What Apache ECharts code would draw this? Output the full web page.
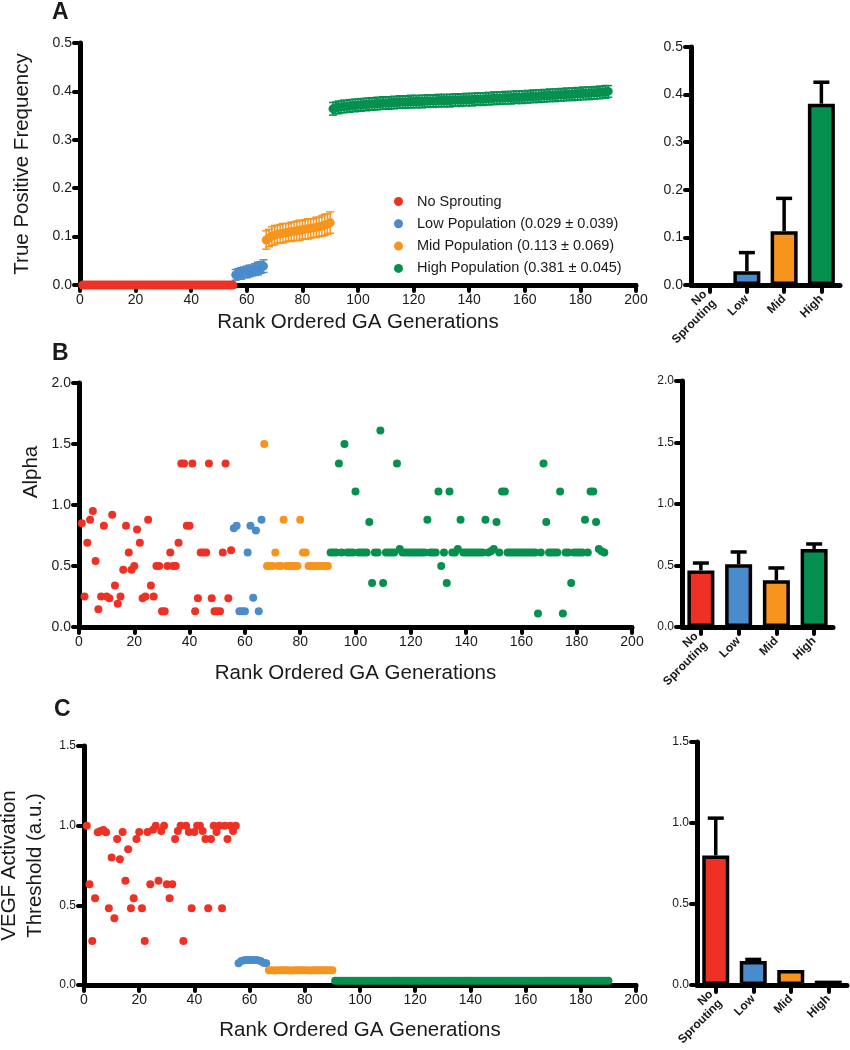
<!DOCTYPE html>
<html><head><meta charset="utf-8">
<script src="https://cdn.jsdelivr.net/npm/echarts@6/dist/echarts.min.js"></script>
<style>html,body{margin:0;padding:0;background:#fff}#c{width:850px;height:1050px}</style>
</head><body><div id="c"></div>
<script>
// ---------- labels ----------
const groupNames = ['No Sprouting', 'Low Population (0.029 \u00b1 0.039)', 'Mid Population (0.113 \u00b1 0.069)', 'High Population (0.381 \u00b1 0.045)'];
const shortNames = ['No Sprouting', 'Low', 'Mid', 'High'];
const barCats = ['No\nSprouting', 'Low', 'Mid', 'High'];
const colors = ['#EE3124', '#4A8BCB', '#F7941D', '#06904F'];
const groupStart = [1, 56, 67, 91];   // first rank of each group
const xTitle = 'Rank Ordered GA Generations';

// ---------- Panel A: true positive frequency (mean, error) ----------
const aRed = [0,0,0,0,0,0,0,0,0,0, 0,0,0,0,0,0,0,0,0,0, 0,0,0,0,0,0,0,0,0,0, 0,0,0,0,0,0,0,0,0,0, 0,0,0,0,0,0,0,0,0,0, 0,0,0,0,0];
const aBlue = [0.021,0.023,0.024,0.026,0.027,0.029,0.030,0.032,0.034,0.036,0.039];
const aBlueErr = [0.011,0.011,0.012,0.011,0.012,0.012,0.011,0.012,0.013,0.012,0.013];
const aOrange = [0.093,0.097,0.101,0.103,0.105,0.106,0.107,0.108,0.109,0.110,0.111,0.112,0.113,0.114,0.115,0.116,0.117,0.118,0.119,0.120,0.122,0.124,0.126,0.129];
const aOrangeErr = [0.019,0.018,0.019,0.020,0.018,0.019,0.020,0.019,0.018,0.020,0.019,0.020,0.021,0.019,0.020,0.021,0.020,0.019,0.021,0.020,0.021,0.022,0.021,0.022];
const aGreen = [
  0.364,0.366,0.367,0.368,0.369,0.369,0.370,0.371,0.371,0.372,
  0.372,0.373,0.373,0.374,0.374,0.374,0.375,0.375,0.376,0.376,
  0.376,0.377,0.377,0.377,0.378,0.378,0.378,0.378,0.379,0.379,
  0.379,0.379,0.379,0.380,0.380,0.380,0.380,0.380,0.381,0.381,
  0.381,0.381,0.381,0.382,0.382,0.382,0.382,0.383,0.383,0.383,
  0.383,0.384,0.384,0.384,0.384,0.385,0.385,0.385,0.386,0.386,
  0.386,0.386,0.387,0.387,0.387,0.388,0.388,0.388,0.388,0.389,
  0.389,0.389,0.390,0.390,0.390,0.391,0.391,0.391,0.392,0.392,
  0.392,0.393,0.393,0.393,0.394,0.394,0.394,0.395,0.395,0.395,
  0.396,0.396,0.396,0.397,0.397,0.397,0.398,0.398,0.399,0.400];
const aGreenErr = [
  0.013,0.012,0.013,0.012,0.013,0.012,0.013,0.012,0.013,0.012,
  0.013,0.012,0.013,0.012,0.013,0.012,0.013,0.012,0.013,0.012,
  0.013,0.012,0.013,0.012,0.013,0.012,0.013,0.012,0.013,0.012,
  0.013,0.012,0.013,0.012,0.013,0.012,0.013,0.012,0.013,0.012,
  0.013,0.012,0.013,0.012,0.013,0.012,0.013,0.012,0.013,0.012,
  0.013,0.012,0.013,0.012,0.013,0.012,0.013,0.012,0.013,0.012,
  0.013,0.012,0.013,0.012,0.013,0.012,0.013,0.012,0.013,0.012,
  0.013,0.012,0.013,0.012,0.013,0.012,0.013,0.012,0.013,0.012,
  0.013,0.012,0.013,0.012,0.013,0.012,0.013,0.012,0.013,0.012,
  0.013,0.012,0.013,0.012,0.013,0.012,0.013,0.012,0.013,0.012];
const aBarMean = [0, 0.029, 0.113, 0.381];
const aBarSd = [0, 0.039, 0.069, 0.045];

// ---------- Panel B: alpha ----------
const bRed = [0.85,0.25,0.69,0.88,0.95,0.54,0.145,0.25,0.83,0.25,
  0.235,0.92,0.34,0.19,0.25,0.47,0.83,0.61,0.47,0.50,
  0.80,0.69,0.235,0.25,0.88,0.34,0.25,0.50,0.50,0.13,
  0.13,0.50,0.61,0.50,0.50,0.69,1.34,1.34,0.83,0.83,
  1.34,0.13,0.235,0.61,0.61,0.61,1.34,0.235,0.13,0.13,
  0.13,0.61,1.34,0.235,0.63];
const bBlue = [0.81,0.83,0.13,0.13,0.13,0.61,0.83,0.24,0.79,0.13,0.88];
const bOrange = [1.50,0.50,0.50,0.50,0.61,0.50,0.50,0.88,0.50,0.50,0.50,0.50,0.50,0.88,0.61,0.61,0.50,0.50,0.50,0.50,0.50,0.50,0.50,0.50];
const bGreen = [
  0.61,0.61,0.61,1.34,0.61,1.50,0.61,0.61,0.61,1.11,
  0.61,0.61,0.61,0.61,0.86,0.36,0.61,0.61,1.61,0.36,
  0.61,0.61,0.61,0.61,1.34,0.64,0.61,0.61,0.61,0.61,
  0.61,0.61,0.61,0.61,0.61,0.88,0.61,0.61,0.61,1.11,
  0.50,0.61,0.36,1.11,0.61,0.61,0.64,0.88,0.61,0.61,
  0.61,0.61,0.61,0.61,0.61,0.61,0.88,0.61,0.62,0.64,
  0.86,0.61,1.11,1.11,0.61,0.61,0.61,0.61,0.61,0.61,
  0.61,0.61,0.61,0.61,0.61,0.11,0.61,1.34,0.86,0.61,
  0.61,0.61,0.61,1.11,0.11,0.61,0.61,0.36,0.61,0.61,
  0.61,0.61,0.88,0.61,1.11,1.11,0.86,0.64,0.62,0.61];
const bBarMean = [0.46, 0.51, 0.38, 0.635];
const bBarSd = [0.06, 0.10, 0.10, 0.04];

// ---------- Panel C: VEGF activation threshold ----------
const cRed = [1.00,0.632,0.276,0.544,0.958,0.967,0.973,0.958,0.481,0.80,
  0.419,0.917,0.79,0.96,0.655,0.852,0.481,0.544,0.917,0.96,
  0.481,0.276,0.96,0.632,0.975,1.00,0.655,0.967,1.00,0.632,
  0.544,0.632,0.917,0.967,1.00,0.276,1.00,0.96,0.481,0.96,
  1.00,1.00,0.967,0.917,0.481,0.917,1.00,0.96,1.00,0.481,
  1.00,0.917,1.00,0.967,1.00];
const cBlue = [0.137,0.150,0.156,0.157,0.157,0.157,0.157,0.156,0.150,0.140,0.137];
const cOrange = [0.092,0.092,0.091,0.092,0.092,0.093,0.092,0.092,0.091,0.092,0.092,0.092,0.093,0.092,0.092,0.091,0.092,0.092,0.092,0.093,0.092,0.092,0.092,0.092];
const cGreen = [
  0.027,0.027,0.027,0.027,0.027,0.027,0.027,0.027,0.027,0.027,
  0.027,0.027,0.027,0.027,0.027,0.027,0.027,0.027,0.027,0.027,
  0.027,0.027,0.027,0.027,0.027,0.027,0.027,0.027,0.027,0.027,
  0.027,0.027,0.027,0.027,0.027,0.027,0.027,0.027,0.027,0.027,
  0.027,0.027,0.027,0.027,0.027,0.027,0.027,0.027,0.027,0.027,
  0.027,0.027,0.027,0.027,0.027,0.027,0.027,0.027,0.027,0.027,
  0.027,0.027,0.027,0.027,0.027,0.027,0.027,0.027,0.027,0.027,
  0.027,0.027,0.027,0.027,0.027,0.027,0.027,0.027,0.027,0.027,
  0.027,0.027,0.027,0.027,0.027,0.027,0.027,0.027,0.027,0.027,
  0.027,0.027,0.027,0.027,0.027,0.027,0.027,0.027,0.027,0.027];
const cBarMean = [0.80, 0.148, 0.092, 0.027];
const cBarSd = [0.23, 0.010, 0, 0];

// ---------- build ----------
const FONT = '"Liberation Sans", Arial, Helvetica, sans-serif';
const INK = '#1a1a1a';
const TITLE_FS = 20.5;
const pts = (g, vals, errs) => vals.map((v, i) => errs ? [groupStart[g] + i, v, errs[i]] : [groupStart[g] + i, v]);

function errRender(params, api) {
  const x = api.value(0), y = api.value(1), e = api.value(2);
  const hi = api.coord([x, y + e]), lo = api.coord([x, y - e]);
  const w = 4;
  const style = { stroke: api.visual('color'), lineWidth: 1.5 };
  return { type: 'group', children: [
    { type: 'line', shape: { x1: hi[0], y1: hi[1], x2: lo[0], y2: lo[1] }, style },
    { type: 'line', shape: { x1: hi[0] - w, y1: hi[1], x2: hi[0] + w, y2: hi[1] }, style },
    { type: 'line', shape: { x1: lo[0] - w, y1: lo[1], x2: lo[0] + w, y2: lo[1] }, style }
  ]};
}
function barErrRender(params, api) {
  const i = api.value(0), m = api.value(1), s = api.value(2);
  if (!(s > 0)) return null;
  const b = api.coord([i, m]), t = api.coord([i, m + s]);
  const w = 8;
  const style = { stroke: '#000', lineWidth: 3.5, lineCap: 'butt' };
  return { type: 'group', children: [
    { type: 'line', shape: { x1: b[0], y1: b[1], x2: t[0], y2: t[1] }, style },
    { type: 'line', shape: { x1: t[0] - w, y1: t[1], x2: t[0] + w, y2: t[1] }, style }
  ]};
}

const axisLine = { show: true, onZero: false, lineStyle: { color: '#000', width: 5, cap: 'round' } };
const axisTick = (len) => ({ show: true, length: len, lineStyle: { color: '#000', width: 4, cap: 'round' } });

function scatterX(gi, nameGap) {
  return { gridIndex: gi, type: 'value', min: 0, max: 200, interval: 20,
    axisLine, axisTick: axisTick(6), splitLine: { show: false },
    axisLabel: { fontSize: 14, color: INK, fontFamily: FONT, margin: 8 },
    name: xTitle, nameLocation: 'middle', nameGap,
    nameTextStyle: { fontSize: TITLE_FS, color: INK, fontFamily: FONT } };
}
function scatterY(gi, max, interval, name, nameGap, fs) {
  const ax = { gridIndex: gi, type: 'value', min: 0, max, interval,
    axisLine, axisTick: axisTick(6), splitLine: { show: false },
    axisLabel: { fontSize: fs, color: INK, fontFamily: FONT, margin: 8, formatter: v => v.toFixed(1) } };
  if (name) {
    ax.name = name; ax.nameLocation = 'middle'; ax.nameGap = nameGap;
    ax.nameTextStyle = { fontSize: TITLE_FS, color: INK, fontFamily: FONT, lineHeight: 26 };
  }
  return ax;
}
function barX(gi) {
  return { gridIndex: gi, type: 'category', data: barCats,
    axisLine, axisTick: { show: true, alignWithLabel: true, length: 7, lineStyle: { color: '#000', width: 4, cap: 'round' } },
    axisLabel: { interval: 0, rotate: 45, fontSize: 12, fontWeight: 'bold', color: INK, fontFamily: FONT, margin: 12, lineHeight: 13 } };
}
function barY(gi, max, interval, fs) {
  return { gridIndex: gi, type: 'value', min: 0, max, interval,
    axisLine, axisTick: axisTick(6), splitLine: { show: false },
    axisLabel: { fontSize: fs, color: INK, fontFamily: FONT, margin: 8, formatter: v => v.toFixed(1) } };
}

const series = [];
function addScatter(ai, names, groups, size, z) {
  groups.forEach((vals, g) => {
    series.push({ type: 'scatter', name: names[g], xAxisIndex: ai, yAxisIndex: ai,
      data: pts(g, vals), symbolSize: size, itemStyle: { color: colors[g], opacity: 1 }, z: z || 3, silent: true });
  });
}
function addBars(ai, means, sds) {
  series.push({ type: 'bar', xAxisIndex: ai, yAxisIndex: ai, barWidth: 27, silent: true,
    data: means.map((v, i) => ({ value: v, itemStyle: { color: colors[i], borderColor: '#000', borderWidth: 3.5 } })) });
  series.push({ type: 'custom', xAxisIndex: ai, yAxisIndex: ai, renderItem: barErrRender, z: 4, silent: true,
    encode: { x: 0, y: 1 }, data: means.map((v, i) => [i, v, sds[i]]) });
}

// A error bars (under the dots)
[[1, aBlue, aBlueErr], [2, aOrange, aOrangeErr], [3, aGreen, aGreenErr]].forEach(([g, v, e]) => {
  series.push({ type: 'custom', xAxisIndex: 0, yAxisIndex: 0, renderItem: errRender, z: 2, silent: true,
    itemStyle: { color: colors[g] }, encode: { x: 0, y: 1 }, data: pts(g, v, e) });
});
addScatter(0, groupNames, [aRed, aBlue, aOrange, aGreen], 9, 3);
addBars(1, aBarMean, aBarSd);
addScatter(2, shortNames.map(s => s + ' B'), [bRed, bBlue, bOrange, bGreen], 8, 3);
addBars(3, bBarMean, bBarSd);
addScatter(4, shortNames.map(s => s + ' C'), [cRed, cBlue, cOrange, cGreen], 8, 3);
addBars(5, cBarMean, cBarSd);

const G = (left, top, width, height) => ({ left, top, width, height, outerBoundsMode: 'none', containLabel: false });
const option = {
  animation: false,
  backgroundColor: '#fff',
  textStyle: { fontFamily: FONT },
  grid: [
    G(80, 43, 556, 242),
    G(691, 47, 149, 238),
    G(79, 383, 553, 244),
    G(682, 381, 151, 246),
    G(84, 746, 552, 239),
    G(697, 742, 150, 243)
  ],
  xAxis: [scatterX(0, 27), barX(1), scatterX(2, 36), barX(3), scatterX(4, 35), barX(5)],
  yAxis: [
    scatterY(0, 0.5, 0.1, 'True Positive Frequency', 45, 14),
    barY(1, 0.5, 0.1, 14),
    scatterY(2, 2.0, 0.5, null, 0, 14),
    barY(3, 2.0, 0.5, 12),
    scatterY(4, 1.5, 0.5, 'VEGF Activation\nThreshold (a.u.)', 35, 12),
    barY(5, 1.5, 0.5, 12)
  ],
  legend: {
    data: groupNames, orient: 'vertical', left: 389, top: 189, selectedMode: false,
    icon: 'circle', itemWidth: 9, itemHeight: 9, itemGap: 7.3,
    textStyle: { fontSize: 14.5, color: INK, fontFamily: FONT, padding: [0, 0, 0, 9] }
  },
  graphic: [
    { type: 'text', left: 52, top: 1, style: { text: 'A', font: 'bold 23px ' + FONT, fill: INK } },
    { type: 'text', left: 52, top: 342, style: { text: 'B', font: 'bold 23px ' + FONT, fill: INK } },
    { type: 'text', left: 54, top: 698, style: { text: 'C', font: 'bold 23px ' + FONT, fill: INK } },
    { type: 'text', x: 31, y: 472, rotation: Math.PI / 2,
      style: { text: 'Alpha', font: TITLE_FS + 'px ' + FONT, fill: INK, align: 'center', verticalAlign: 'middle' } }
  ],
  series
};
const chart = echarts.init(document.getElementById('c'), null, { renderer: 'canvas' });
chart.setOption(option);
</script></body></html>
